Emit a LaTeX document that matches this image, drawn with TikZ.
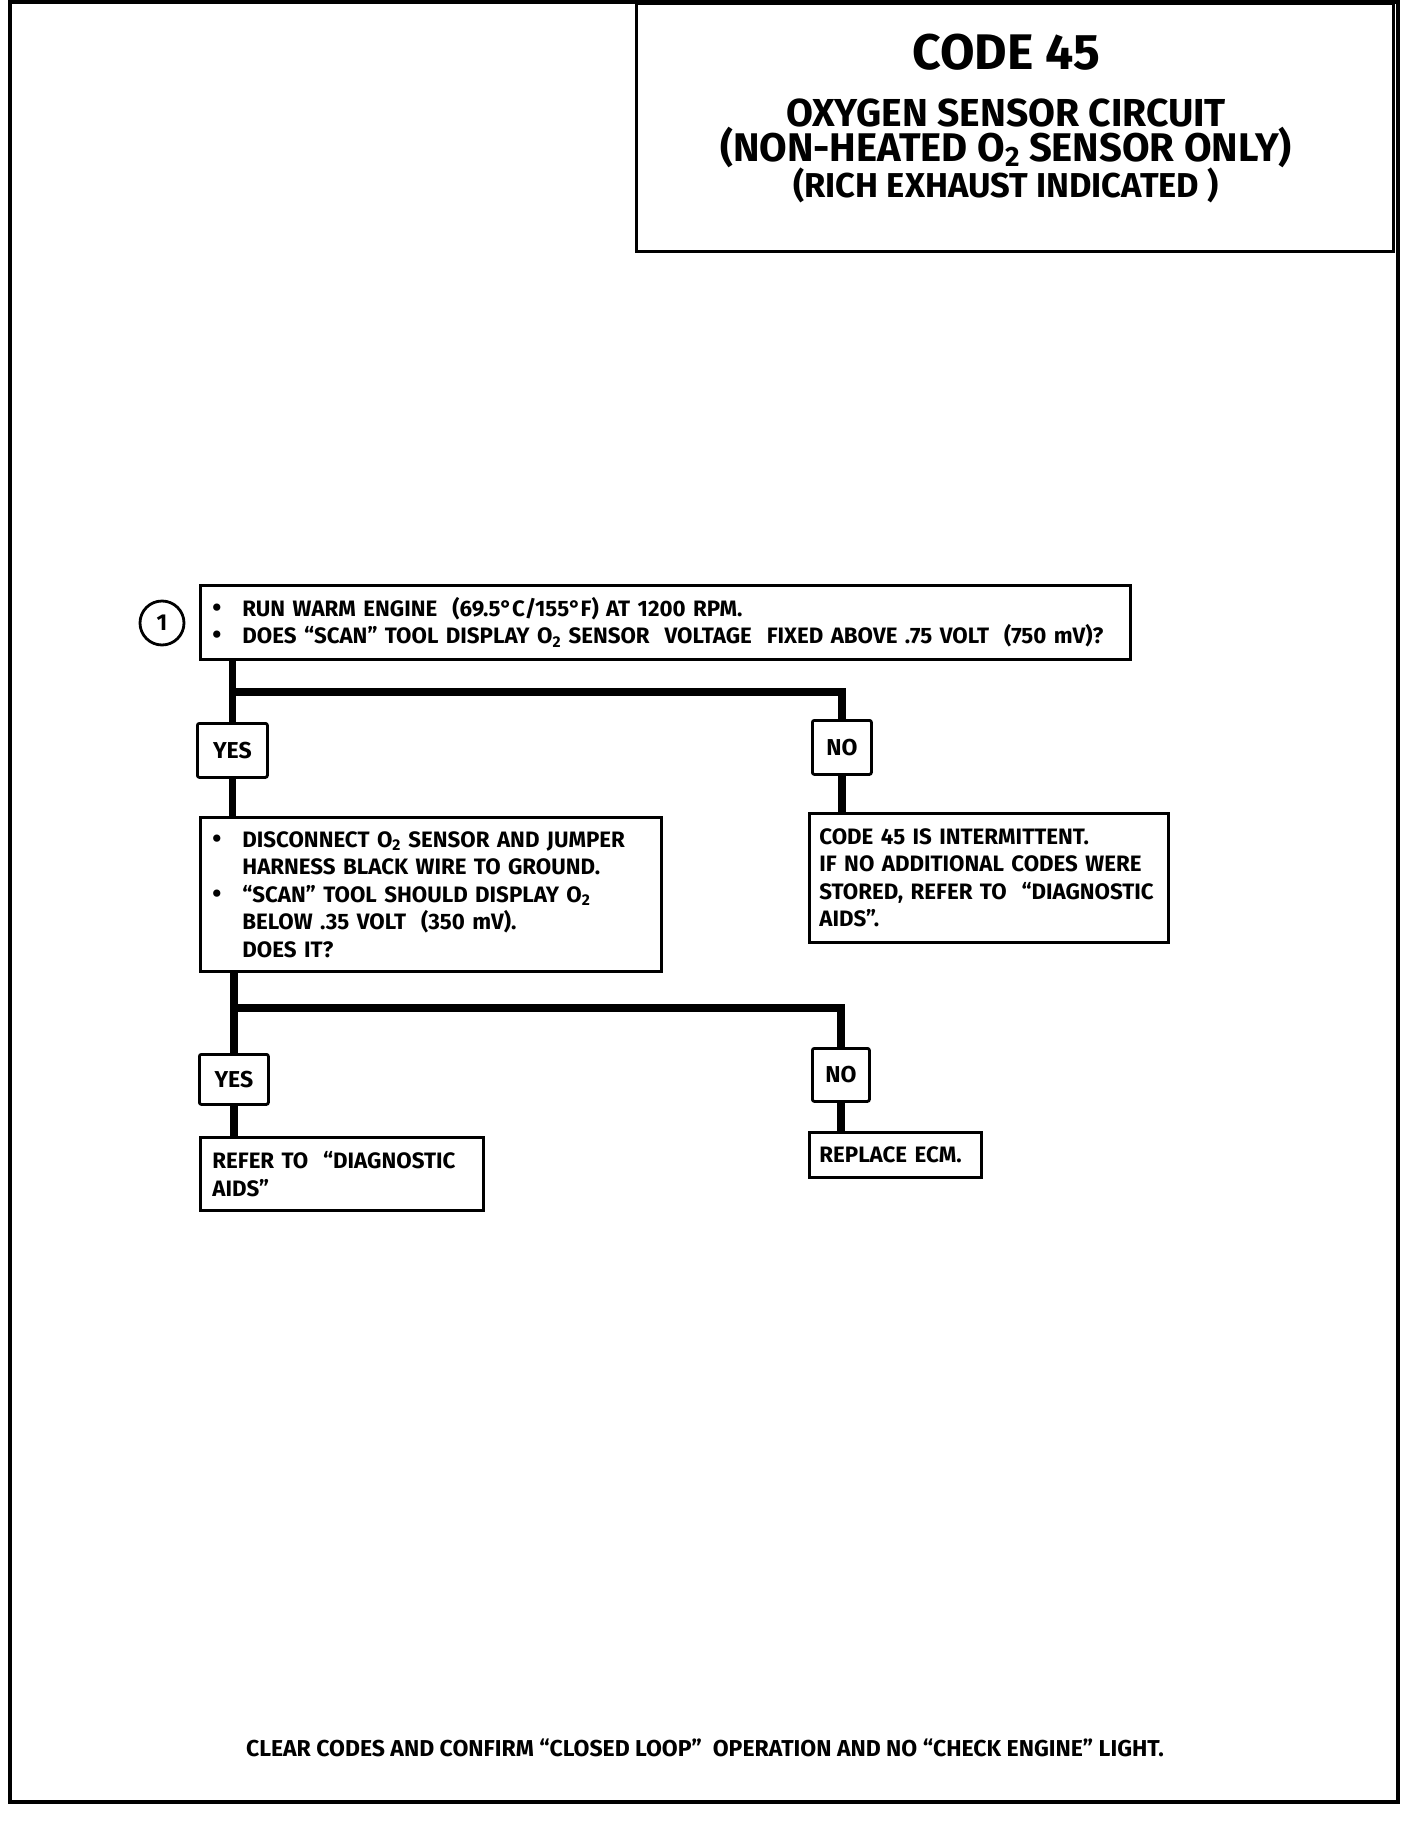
\documentclass[tikz,border=0pt]{standalone}
\usepackage{fontspec}
\setmainfont{Fira Sans}
\newfontfamily\bodyfont{Fira Sans}
\newcommand{\otwo}{O\textsubscript{2}}
\newcommand{\bul}{\makebox[30pt][l]{\fontsize{26}{26}\selectfont\textbullet}}
\newcommand{\ind}{\hspace*{30pt}}

\tikzset{
	box/.style={draw, line width=2.8pt, anchor=north west, align=left, inner xsep=12pt, inner ysep=0pt,
		font=\bodyfont\bfseries\fontsize{22.3}{27.5}\selectfont},
	tag/.style={draw, line width=2.8pt, rounded corners=2pt, anchor=north west, inner sep=0pt,
		font=\bodyfont\bfseries\fontsize{23}{24}\selectfont},
	link/.style={line width=7.5pt},
	head/.style={font=\bfseries\fontsize{#1}{#1}\selectfont, inner sep=0pt}
}

\begin{document}
\begin{tikzpicture}[x=1pt,y=-1pt]
	\useasboundingbox (0,0) rectangle (1408,1830);
	% frame and title
	\draw[line width=4.5pt] (10,2) rectangle (1398,1802);
	\node[draw, line width=3pt, anchor=north west, minimum width=757, minimum height=248, inner sep=0pt] (title) at (635,2) {};
	\node[head=50] (code) at (1006,52) {CODE 45};
	\node[head=39] (name) at (1006,113) {OXYGEN SENSOR CIRCUIT};
	\node[head=40] (kind) at (1006,148) {(NON-HEATED O\raisebox{-0.12em}{\fontsize{28}{28}\selectfont 2} SENSOR ONLY)};
	\node[head=34.5] (rich) at (1006,185) {(RICH EXHAUST INDICATED )};

	% step 1
	\node[draw, circle, line width=2.8pt, minimum size=44, inner sep=0pt, font=\bodyfont\bfseries\fontsize{23}{23}\selectfont] (one) at (162,623) {1};
	\node[box, text width=906, minimum height=74] (q1) at (199,584)
		{\bul RUN WARM ENGINE\ \ (69.5°C/155°F) AT 1200 RPM.\\
		 \bul DOES “SCAN” TOOL DISPLAY \otwo{} SENSOR\ \ VOLTAGE\ \ FIXED ABOVE .75 VOLT\ \ (750 mV)?};
	\node[tag, minimum width=70, minimum height=54] (yes1) at (196,722) {YES};
	\node[tag, minimum width=59, minimum height=54] (no1) at (811,719) {NO};
	\node[box, text width=437, minimum height=154] (q2) at (199,816)
		{\bul DISCONNECT \otwo{} SENSOR AND JUMPER\\
		 \ind HARNESS BLACK WIRE TO GROUND.\\
		 \bul “SCAN” TOOL SHOULD DISPLAY \otwo\\
		 \ind BELOW .35 VOLT\ \ (350 mV).\\
		 \ind DOES IT?};
	\node[box, inner xsep=10pt, text width=339, minimum height=129] (r1) at (808,812)
		{CODE 45 IS INTERMITTENT.\\
		 IF NO ADDITIONAL CODES WERE\\
		 STORED, REFER TO\ \ “DIAGNOSTIC\\
		 AIDS”.};
	\node[tag, minimum width=69, minimum height=50] (yes2) at (198,1053) {YES};
	\node[tag, minimum width=57, minimum height=53] (no2) at (811,1047) {NO};
	\node[box, text width=259, minimum height=73] (r2) at (199,1136)
		{REFER TO\ \ “DIAGNOSTIC\\ AIDS”};
	\node[box, inner xsep=10pt, text width=152, minimum height=45] (r3) at (808,1131)
		{REPLACE ECM.};

	% connectors
	\coordinate (fork1) at (231,692);
	\coordinate (fork2) at (231,1008);
	\draw[link] (q1.south -| yes1.north) -- (yes1.north);
	\draw[link] (fork1) -| (no1.north);
	\draw[link] (yes1.south) -- (yes1.south |- q2.north);
	\draw[link] (no1.south) -- (no1.south |- r1.north);
	\draw[link] (q2.south -| yes2.north) -- (yes2.north);
	\draw[link] (fork2) -| (no2.north);
	\draw[link] (yes2.south) -- (yes2.south |- r2.north);
	\draw[link] (no2.south) -- (no2.south |- r3.north);

	\node[font=\bodyfont\bfseries\fontsize{23}{23}\selectfont] (note) at (705,1748)
		{CLEAR CODES AND CONFIRM “CLOSED LOOP”\ \ OPERATION AND NO “CHECK ENGINE” LIGHT.};
\end{tikzpicture}
\end{document}
